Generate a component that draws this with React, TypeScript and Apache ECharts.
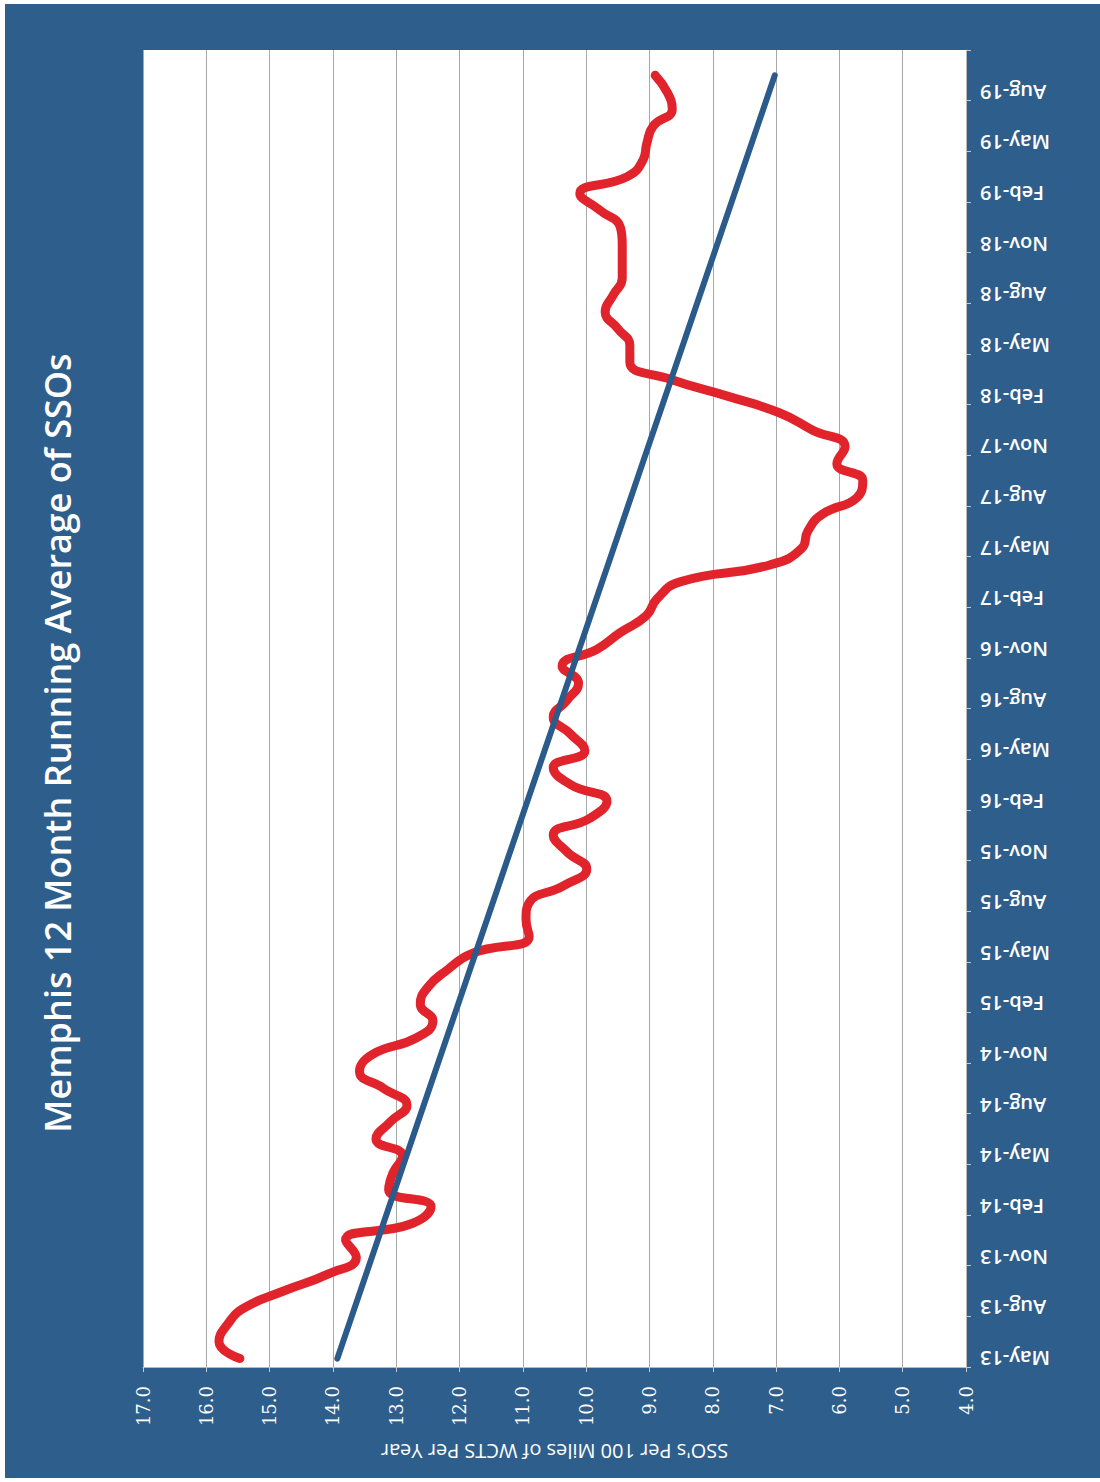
import { useEffect, useRef } from "react";
import * as echarts from "echarts";

// Monthly categories, May 2013 through Oct 2019 (last one is an empty slot at the top edge)
const MONTHS = [
  "May-13", "Jun-13", "Jul-13", "Aug-13", "Sep-13", "Oct-13", "Nov-13", "Dec-13",
  "Jan-14", "Feb-14", "Mar-14", "Apr-14", "May-14", "Jun-14", "Jul-14", "Aug-14", "Sep-14", "Oct-14", "Nov-14", "Dec-14",
  "Jan-15", "Feb-15", "Mar-15", "Apr-15", "May-15", "Jun-15", "Jul-15", "Aug-15", "Sep-15", "Oct-15", "Nov-15", "Dec-15",
  "Jan-16", "Feb-16", "Mar-16", "Apr-16", "May-16", "Jun-16", "Jul-16", "Aug-16", "Sep-16", "Oct-16", "Nov-16", "Dec-16",
  "Jan-17", "Feb-17", "Mar-17", "Apr-17", "May-17", "Jun-17", "Jul-17", "Aug-17", "Sep-17", "Oct-17", "Nov-17", "Dec-17",
  "Jan-18", "Feb-18", "Mar-18", "Apr-18", "May-18", "Jun-18", "Jul-18", "Aug-18", "Sep-18", "Oct-18", "Nov-18", "Dec-18",
  "Jan-19", "Feb-19", "Mar-19", "Apr-19", "May-19", "Jun-19", "Jul-19", "Aug-19", "Sep-19", "Oct-19",
];

// 12-month running average of SSOs per 100 miles of WCTS per year
const RUNNING_AVG = [
  15.47, 15.8, 15.67, 15.4, 14.78, 14.08, 13.63, 13.8,
  12.75, 12.45, 13.12, 13.05, 12.9, 13.32, 13.1, 12.83, 13.2, 13.58, 13.38, 12.68, 12.42, 12.62,
  12.5, 12.2, 11.8, 10.9, 10.95, 10.9, 10.36, 9.99, 10.3, 10.52, 9.94, 9.67,
  10.25, 10.52, 10.02, 10.25, 10.52, 10.3, 10.12, 10.38, 9.83, 9.46, 9.05, 8.88,
  8.52, 7.1, 6.59, 6.5, 6.27, 5.72, 5.63, 6.04, 5.91, 6.43, 6.94, 7.77,
  8.67, 9.31, 9.31, 9.5, 9.7, 9.57, 9.43, 9.43, 9.43, 9.46, 9.78, 10.1,
  9.35, 9.1, 9.04, 8.94, 8.64, 8.72, 8.91,
];

// Linear trend end points (first and last month of data)
const TREND_START = 13.93;
const TREND_END = 7.02;

const VALUE_MIN = 4;
const VALUE_MAX = 17;

const TITLE = "Memphis 12 Month Running Average of SSOs";
const VALUE_AXIS_NAME = "SSO's Per 100 Miles of WCTS Per Year";

const BG_BLUE = "#2E5E8C";
const RED = "#E1232C";
const TREND_BLUE = "#2B5B8A";

const everyThird = (index: number) => index % 3 === 0;

export default function App() {
  const ref = useRef<HTMLDivElement>(null);

  useEffect(() => {
    document.body.style.margin = "0";
    const chart = echarts.init(ref.current!, null, { renderer: "svg" });
    chart.setOption({
      animation: false,
      backgroundColor: BG_BLUE,
      grid: {
        left: 138,
        right: 134,
        top: 46,
        bottom: 111,
        show: true,
        backgroundColor: "#ffffff",
        borderWidth: 0,
      },
      xAxis: {
        type: "value",
        min: VALUE_MIN,
        max: VALUE_MAX,
        interval: 1,
        inverse: true,
        position: "bottom",
        axisLine: { show: true, lineStyle: { color: "#b9b9b9", width: 1 } },
        axisTick: { show: true, length: 5, lineStyle: { color: "#c8c8c8" } },
        axisLabel: {
          rotate: 90,
          margin: 19,
          color: "#ffffff",
          fontFamily: "DejaVu Serif",
          fontSize: 18,
          formatter: (v: number) => v.toFixed(1),
        },
        splitLine: { show: true, lineStyle: { color: "#a8a8a8", width: 1 } },
        name: VALUE_AXIS_NAME,
        nameLocation: "middle",
        nameGap: 74,
        nameRotate: 180,
        nameTextStyle: { color: "#ffffff", fontFamily: "Open Sans", fontSize: 20 },
      },
      yAxis: {
        type: "category",
        data: MONTHS,
        position: "right",
        boundaryGap: true,
        axisLine: { show: true, lineStyle: { color: "#b9b9b9", width: 1 } },
        axisTick: { show: true, interval: everyThird, length: 5, lineStyle: { color: "#c8c8c8" } },
        axisLabel: {
          interval: everyThird,
          rotate: 180,
          margin: 14,
          color: "#ffffff",
          fontFamily: "Open Sans",
          fontWeight: 600,
          fontSize: 20,
        },
        splitLine: { show: false },
      },
      graphic: [
        {
          type: "text",
          x: 52,
          y: 739,
          rotation: Math.PI / 2,
          style: {
            text: TITLE,
            fill: "#ffffff",
            fontFamily: "Open Sans",
            fontWeight: 600,
            fontSize: 36,
            align: "center",
            verticalAlign: "middle",
          },
        },
      ],
      series: [
        {
          type: "line",
          data: RUNNING_AVG,
          smooth: true,
          symbol: "none",
          lineStyle: { color: RED, width: 9, cap: "round", join: "round" },
          z: 2,
        },
        {
          type: "line",
          data: [
            [TREND_START, MONTHS[0]],
            [TREND_END, MONTHS[RUNNING_AVG.length - 1]],
          ],
          symbol: "none",
          lineStyle: { color: TREND_BLUE, width: 6, cap: "round" },
          z: 3,
        },
      ],
    });
    return () => chart.dispose();
  }, []);

  return (
    <div style={{ position: "relative", width: 1100, height: 1482, background: "#ffffff" }}>
      <div ref={ref} style={{ position: "absolute", left: 5, top: 4, width: 1095, height: 1474 }} />
    </div>
  );
}
